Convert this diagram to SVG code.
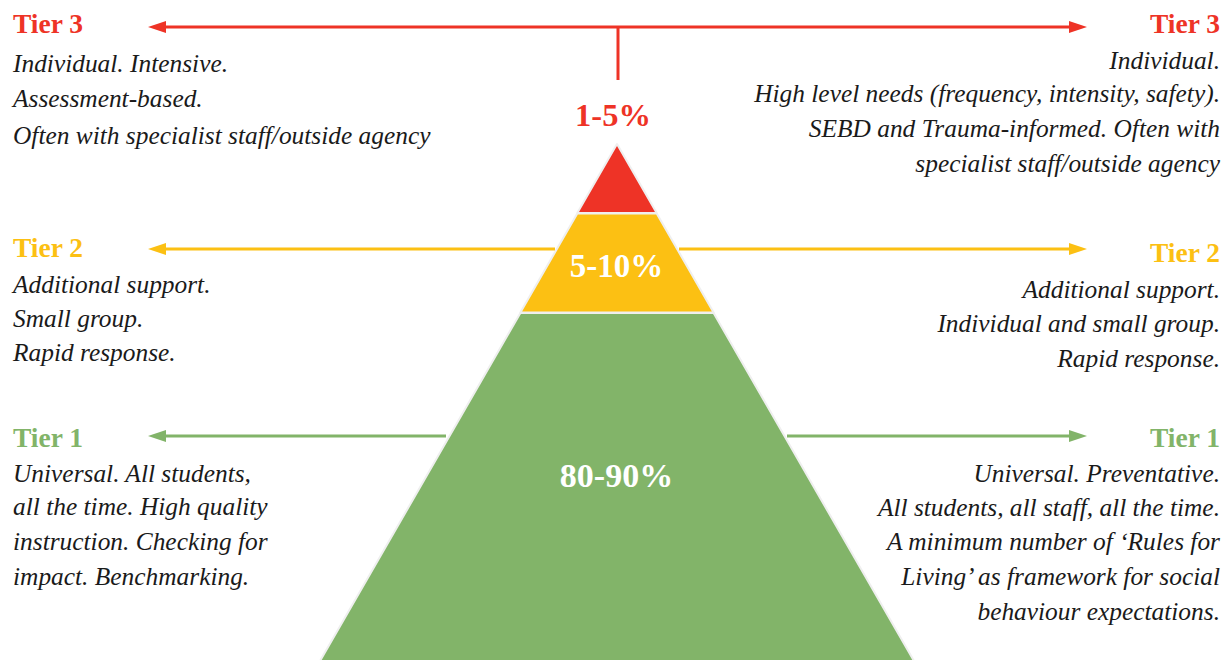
<svg xmlns="http://www.w3.org/2000/svg" width="1231" height="660" viewBox="0 0 1231 660">
<defs>
<style>
.t{font-family:"Liberation Serif","DejaVu Serif",serif;font-weight:bold;font-size:27.5px}
.b{font-family:"Liberation Serif","DejaVu Serif",serif;font-style:italic;font-size:25.4px;fill:#1a1a1a}
.p{font-family:"Liberation Serif","DejaVu Serif",serif;font-weight:bold;text-anchor:middle}
.r{text-anchor:end}
.red{fill:#ee3326}.yel{fill:#fcc013}.grn{fill:#82b469}
.ln{stroke-width:3;fill:none}
.layer{stroke:#efefef;stroke-width:2;stroke-linejoin:round}
</style>
<marker id="ar" viewBox="0 0 18 12" markerWidth="18" markerHeight="12" markerUnits="userSpaceOnUse" refX="11" refY="6" orient="auto-start-reverse"><path d="M0,0 L18,6 L0,12 z" fill="#ee3326"/></marker>
<marker id="ay" viewBox="0 0 18 12" markerWidth="18" markerHeight="12" markerUnits="userSpaceOnUse" refX="11" refY="6" orient="auto-start-reverse"><path d="M0,0 L18,6 L0,12 z" fill="#fcc013"/></marker>
<marker id="ag" viewBox="0 0 18 12" markerWidth="18" markerHeight="12" markerUnits="userSpaceOnUse" refX="11" refY="6" orient="auto-start-reverse"><path d="M0,0 L18,6 L0,12 z" fill="#82b469"/></marker>
</defs>
<rect width="1231" height="660" fill="#ffffff"/>

<g id="pyramid">
<g id="layer-tier1"><polygon class="layer grn" points="520.4,313 713.6,313 914,661 320,661"/><text class="p" x="616.5" y="487" font-size="34" fill="#ffffff">80-90%</text></g>
<g id="layer-tier2"><polygon class="layer yel" points="577.3,213.5 656.7,213.5 713.6,312.5 520.4,312.5"/><text class="p" x="616.5" y="277" font-size="33" fill="#ffffff">5-10%</text></g>
<g id="layer-tier3"><polygon class="layer red" points="617,144 656.7,213 577.3,213"/></g>
<text id="label-tier3" class="p red" x="613" y="126" font-size="32.5">1-5%</text>
</g>

<g id="connectors">
<line class="ln" stroke="#ee3326" x1="155" y1="27" x2="1080" y2="27" marker-start="url(#ar)" marker-end="url(#ar)"/>
<line class="ln" stroke="#ee3326" x1="618" y1="27" x2="618" y2="80"/>
<line class="ln" stroke="#fcc013" x1="555" y1="249" x2="155" y2="249" marker-end="url(#ay)"/>
<line class="ln" stroke="#fcc013" x1="679" y1="249" x2="1080" y2="249" marker-end="url(#ay)"/>
<line class="ln" stroke="#82b469" x1="446" y1="436" x2="155" y2="436" marker-end="url(#ag)"/>
<line class="ln" stroke="#82b469" x1="787" y1="436" x2="1080" y2="436" marker-end="url(#ag)"/>
</g>

<g id="tier3-left">
<text class="t red" x="13" y="33">Tier 3</text>
<text class="b" x="13" y="72">Individual. Intensive.</text>
<text class="b" x="13" y="107">Assessment-based.</text>
<text class="b" x="13" y="144">Often with specialist staff/outside agency</text>
</g>
<g id="tier3-right">
<text class="t red r" x="1220" y="33">Tier 3</text>
<text class="b r" x="1220" y="69">Individual.</text>
<text class="b r" x="1220" y="102">High level needs (frequency, intensity, safety).</text>
<text class="b r" x="1220" y="137">SEBD and Trauma-informed. Often with</text>
<text class="b r" x="1220" y="172">specialist staff/outside agency</text>
</g>
<g id="tier2-left">
<text class="t yel" x="13" y="257">Tier 2</text>
<text class="b" x="13" y="293">Additional support.</text>
<text class="b" x="13" y="327">Small group.</text>
<text class="b" x="13" y="361">Rapid response.</text>
</g>
<g id="tier2-right">
<text class="t yel r" x="1220" y="262">Tier 2</text>
<text class="b r" x="1220" y="298">Additional support.</text>
<text class="b r" x="1220" y="332">Individual and small group.</text>
<text class="b r" x="1220" y="367">Rapid response.</text>
</g>
<g id="tier1-left">
<text class="t grn" x="13" y="447">Tier 1</text>
<text class="b" x="13" y="482">Universal. All students,</text>
<text class="b" x="13" y="515">all the time. High quality</text>
<text class="b" x="13" y="550">instruction. Checking for</text>
<text class="b" x="13" y="585">impact. Benchmarking.</text>
</g>
<g id="tier1-right">
<text class="t grn r" x="1220" y="447">Tier 1</text>
<text class="b r" x="1220" y="482">Universal. Preventative.</text>
<text class="b r" x="1220" y="516">All students, all staff, all the time.</text>
<text class="b r" x="1220" y="550">A minimum number of ‘Rules for</text>
<text class="b r" x="1220" y="585">Living’ as framework for social</text>
<text class="b r" x="1220" y="620">behaviour expectations.</text>
</g>
</svg>
